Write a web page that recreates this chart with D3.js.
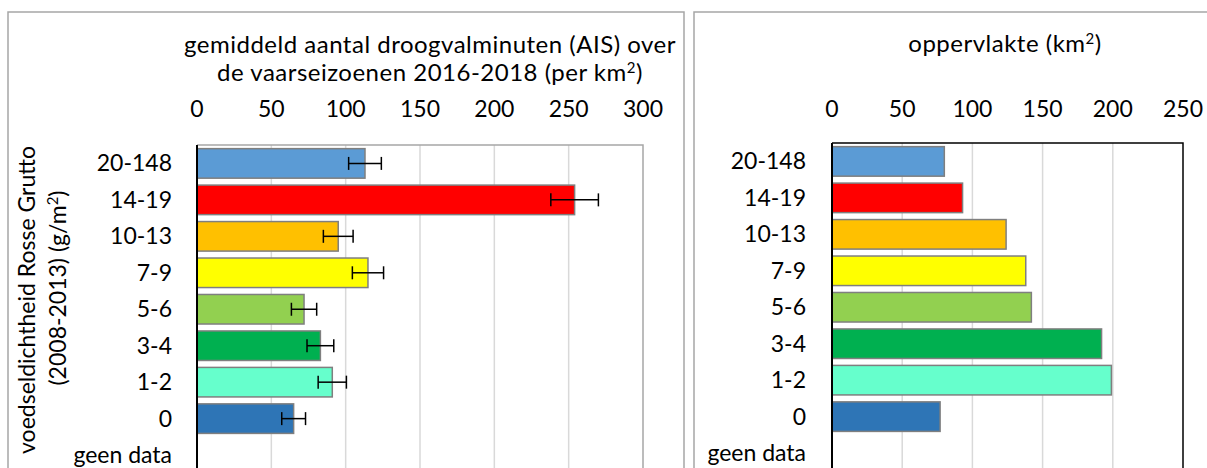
<!DOCTYPE html>
<html>
<head>
    <meta charset="utf-8">
    <title>Droogvalminuten en oppervlakte per voedseldichtheid</title>
    <script src="https://cdn.jsdelivr.net/npm/d3@7"></script>
    <style>
        body { margin: 0; background: #fff; }
        svg { font-family: Lato, "Open Sans", sans-serif; }
        .grid line { stroke: #d9d9d9; stroke-width: 1.5; }
        .bar { stroke: #7f7f7f; stroke-width: 1.5; }
        .err { stroke: #000; stroke-width: 1.5; }
        .frame { fill: none; stroke: #a6a6a6; stroke-width: 1.5; }
        .title { letter-spacing: 0.5px; }
    </style>
</head>
<body>
<script>
    var categories = ["20-148", "14-19", "10-13", "7-9", "5-6", "3-4", "1-2", "0", "geen data"];
    var colors = ["#5b9bd5", "#ff0000", "#ffc000", "#ffff00", "#92d050", "#00b050", "#66ffcc", "#2e75b6", "none"];
    // gemiddeld aantal droogvalminuten, met foutmarge
    var minutes = [113, 254, 95, 115, 72, 83, 91, 65, null];
    var minutesErr = [11, 16, 10, 10.5, 8.5, 9, 9.5, 8, null];
    // oppervlakte in km2
    var area = [80, 93, 124, 138, 142, 192, 199, 77, null];
    var ticksLeft = [0, 50, 100, 150, 200, 250, 300];
    var ticksRight = [0, 50, 100, 150, 200, 250];

    var width = 1207, height = 468;

    var svg = d3.select("body").append("svg")
        .attr("width", width)
        .attr("height", height);

    // panel frames
    svg.append("rect").attr("class", "frame")
        .attr("x", 8).attr("y", 12).attr("width", 676).attr("height", 480);
    svg.append("rect").attr("class", "frame")
        .attr("x", 694).attr("y", 12).attr("width", 540).attr("height", 480);

    function panel(opts) {
        var x = d3.scaleLinear().domain([0, opts.max]).range([opts.left, opts.right]);
        var y = d3.scaleBand().domain(categories)
            .range([opts.top, opts.top + 36.5 * categories.length])
            .paddingInner(0.19).paddingOuter(0.1);
        var g = svg.append("g");

        g.append("g").attr("class", "grid")
            .selectAll("line")
            .data(opts.ticks.slice(1, -1))
            .enter().append("line")
            .attr("x1", x).attr("x2", x)
            .attr("y1", opts.top).attr("y2", height + 10);

        // plot area border (top + right)
        g.append("path")
            .attr("d", "M" + opts.left + "," + opts.top + "H" + opts.right + "V" + (height + 10))
            .attr("fill", "none")
            .attr("stroke", opts.borderColor)
            .attr("stroke-width", 1.5);

        g.selectAll("text.tick")
            .data(opts.ticks)
            .enter().append("text")
            .attr("class", "tick")
            .attr("x", x)
            .attr("y", 117)
            .attr("text-anchor", "middle")
            .attr("font-size", 23)
            .attr("fill", "#000")
            .text(function (d) { return d; });

        var rows = categories.map(function (c, i) {
            return { cat: c, value: opts.values[i], err: opts.errors ? opts.errors[i] : null, color: colors[i] };
        });

        g.selectAll("rect.bar")
            .data(rows.filter(function (d) { return d.value != null; }))
            .enter().append("rect")
            .attr("class", "bar")
            .attr("x", x(0))
            .attr("y", function (d) { return y(d.cat); })
            .attr("width", function (d) { return x(d.value) - x(0); })
            .attr("height", y.bandwidth())
            .attr("fill", function (d) { return d.color; });

        if (opts.errors) {
            var eb = g.selectAll("g.err")
                .data(rows.filter(function (d) { return d.err != null; }))
                .enter().append("g").attr("class", "err")
                .attr("transform", function (d) { return "translate(0," + (y(d.cat) + y.bandwidth() / 2) + ")"; });
            eb.append("line")
                .attr("x1", function (d) { return x(d.value - d.err); })
                .attr("x2", function (d) { return x(d.value + d.err); });
            eb.append("line")
                .attr("x1", function (d) { return x(d.value - d.err); })
                .attr("x2", function (d) { return x(d.value - d.err); })
                .attr("y1", -6.5).attr("y2", 6.5);
            eb.append("line")
                .attr("x1", function (d) { return x(d.value + d.err); })
                .attr("x2", function (d) { return x(d.value + d.err); })
                .attr("y1", -6.5).attr("y2", 6.5);
        }

        // category axis
        g.append("line")
            .attr("x1", x(0)).attr("x2", x(0))
            .attr("y1", opts.top).attr("y2", height + 10)
            .attr("stroke", "#000").attr("stroke-width", 2);

        g.selectAll("text.cat")
            .data(categories)
            .enter().append("text")
            .attr("class", "cat")
            .attr("x", opts.labelX)
            .attr("y", function (d) { return y(d) + y.bandwidth() / 2 + 8; })
            .attr("text-anchor", "end")
            .attr("font-size", 23)
            .text(function (d) { return d; });

        return x;
    }

    panel({ left: 197, right: 643, top: 145, max: 300, ticks: ticksLeft,
            values: minutes, errors: minutesErr, borderColor: "#a6a6a6", labelX: 172 });
    panel({ left: 832, right: 1183, top: 143, max: 250, ticks: ticksRight,
            values: area, errors: null, borderColor: "#000", labelX: 806 });

    // titles
    svg.append("text").attr("class", "title").attr("x", 430).attr("y", 53)
        .attr("text-anchor", "middle").attr("font-size", 24)
        .text("gemiddeld aantal droogvalminuten (AIS) over");
    var t2 = svg.append("text").attr("class", "title").attr("x", 430).attr("y", 81)
        .attr("text-anchor", "middle").attr("font-size", 24);
    t2.append("tspan").text("de vaarseizoenen 2016-2018 (per km");
    t2.append("tspan").attr("font-size", 15).attr("dy", -8).text("2");
    t2.append("tspan").attr("dy", 8).text(")");

    var t3 = svg.append("text").attr("class", "title").attr("x", 1005).attr("y", 52)
        .attr("text-anchor", "middle").attr("font-size", 24);
    t3.append("tspan").text("oppervlakte (km");
    t3.append("tspan").attr("font-size", 15).attr("dy", -8).text("2");
    t3.append("tspan").attr("dy", 8).text(")");

    // y-axis title, rotated
    svg.append("text")
        .attr("transform", "translate(35,300) rotate(-90)")
        .attr("text-anchor", "middle").attr("font-size", 23)
        .text("voedseldichtheid Rosse Grutto");
    var t4 = svg.append("text")
        .attr("transform", "translate(66,288) rotate(-90)")
        .attr("text-anchor", "middle").attr("font-size", 23);
    t4.append("tspan").text("(2008-2013) (g/m");
    t4.append("tspan").attr("font-size", 15).attr("dy", -8).text("2");
    t4.append("tspan").attr("dy", 8).text(")");
</script>
</body>
</html>
